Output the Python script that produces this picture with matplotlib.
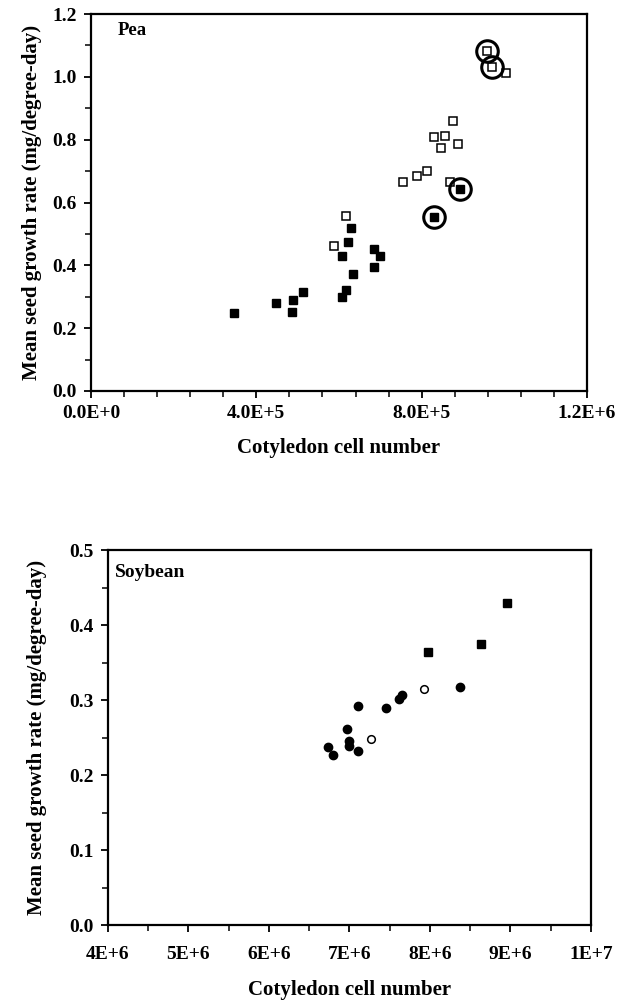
import numpy as np
import matplotlib
matplotlib.use('Agg')
import matplotlib.pyplot as plt
from matplotlib.ticker import FixedLocator, FixedFormatter, MultipleLocator

# Pea data (cell number, growth rate)
pea_filled_x = [3.47e5, 4.47e5, 4.88e5, 4.86e5, 5.13e5, 6.08e5, 6.18e5, 6.33e5,
                6.08e5, 6.21e5, 6.28e5, 6.85e5, 6.98e5, 6.85e5, 8.93e5, 8.31e5]
pea_filled_y = [0.247, 0.279, 0.290, 0.252, 0.315, 0.300, 0.322, 0.372,
                0.430, 0.474, 0.518, 0.452, 0.431, 0.394, 0.642, 0.555]
pea_open_x = [5.87e5, 6.18e5, 7.54e5, 7.89e5, 8.13e5, 8.68e5, 8.31e5, 8.56e5,
              8.47e5, 8.87e5, 8.77e5, 9.57e5, 9.71e5, 1.005e6]
pea_open_y = [0.463, 0.557, 0.664, 0.685, 0.701, 0.666, 0.807, 0.813,
              0.774, 0.787, 0.859, 1.083, 1.032, 1.013]
pea_circled_x = [9.57e5, 9.71e5, 8.93e5, 8.31e5]
pea_circled_y = [1.083, 1.032, 0.642, 0.555]

# Soybean data
soy_filled_x = [6.73e6, 6.80e6, 6.97e6, 6.99e6, 6.99e6, 7.10e6, 7.11e6, 7.45e6,
                7.61e6, 7.65e6, 8.37e6]
soy_filled_y = [0.238, 0.227, 0.262, 0.246, 0.239, 0.232, 0.292, 0.290,
                0.301, 0.307, 0.317]
soy_open_x = [7.27e6, 7.93e6]
soy_open_y = [0.248, 0.315]
soy_square_x = [7.98e6, 8.63e6, 8.96e6]
soy_square_y = [0.364, 0.375, 0.429]

pea_xticks = [0, 4e5, 8e5, 1.2e6]
pea_xlabels = ['0.0E+0', '4.0E+5', '8.0E+5', '1.2E+6']
pea_yticks = [0.0, 0.2, 0.4, 0.6, 0.8, 1.0, 1.2]
soy_xticks = [4e6, 5e6, 6e6, 7e6, 8e6, 9e6, 1e7]
soy_xlabels = ['4E+6', '5E+6', '6E+6', '7E+6', '8E+6', '9E+6', '1E+7']
soy_yticks = [0.0, 0.1, 0.2, 0.3, 0.4, 0.5]

plt.rcParams['font.family'] = 'Liberation Serif'
plt.rcParams['font.weight'] = 'bold'

fig = plt.figure(figsize=(6.25, 10.01), dpi=100)
ax1 = fig.add_axes([0.1456, 0.6094, 0.7936, 0.3766])
ax2 = fig.add_axes([0.1728, 0.0759, 0.7728, 0.3746])

ylab = 'Mean seed growth rate (mg/degree-day)'
xlab = 'Cotyledon cell number'

# Pea
ax1.plot(pea_filled_x, pea_filled_y, 's', color='black', markersize=5.5, zorder=3)
ax1.plot(pea_open_x, pea_open_y, 's', markerfacecolor='white', markeredgecolor='black',
         markersize=5.5, markeredgewidth=1.1, zorder=3)
ax1.plot(pea_circled_x, pea_circled_y, 'o', markerfacecolor='none', markeredgecolor='black',
         markersize=15.5, markeredgewidth=2.2, zorder=4)
ax1.set_xlim(0, 1.2e6)
ax1.set_ylim(0, 1.2)
ax1.xaxis.set_major_locator(FixedLocator(pea_xticks))
ax1.xaxis.set_major_formatter(FixedFormatter(pea_xlabels))
ax1.xaxis.set_minor_locator(MultipleLocator(8e4))
ax1.yaxis.set_major_locator(FixedLocator(pea_yticks))
ax1.yaxis.set_major_formatter(FixedFormatter(['%.1f' % v for v in pea_yticks]))
ax1.yaxis.set_minor_locator(MultipleLocator(0.1))
ax1.text(0.054, 0.955, 'Pea', transform=ax1.transAxes, fontsize=13.5, fontweight='bold',
         va='center', ha='left')
ax1.set_xlabel(xlab, fontsize=15, fontweight='bold')
ax1.xaxis.set_label_coords(0.5, -0.125)
ax1.set_ylabel(ylab, fontsize=15, fontweight='bold')
ax1.yaxis.set_label_coords(-0.099, 0.5)

# Soybean
ax2.plot(soy_filled_x, soy_filled_y, 'o', color='black', markersize=6, zorder=3)
ax2.plot(soy_open_x, soy_open_y, 'o', markerfacecolor='white', markeredgecolor='black',
         markersize=5.5, markeredgewidth=1.1, zorder=3)
ax2.plot(soy_square_x, soy_square_y, 's', color='black', markersize=6, zorder=3)
ax2.set_xlim(4e6, 1e7)
ax2.set_ylim(0, 0.5)
ax2.xaxis.set_major_locator(FixedLocator(soy_xticks))
ax2.xaxis.set_major_formatter(FixedFormatter(soy_xlabels))
ax2.xaxis.set_minor_locator(MultipleLocator(5e5))
ax2.yaxis.set_major_locator(FixedLocator(soy_yticks))
ax2.yaxis.set_major_formatter(FixedFormatter(['%.1f' % v for v in soy_yticks]))
ax2.yaxis.set_minor_locator(MultipleLocator(0.05))
ax2.text(0.015, 0.941, 'Soybean', transform=ax2.transAxes, fontsize=14, fontweight='bold',
         va='center', ha='left')
ax2.set_xlabel(xlab, fontsize=15, fontweight='bold')
ax2.xaxis.set_label_coords(0.5, -0.147)
ax2.set_ylabel(ylab, fontsize=15, fontweight='bold')
ax2.yaxis.set_label_coords(-0.126, 0.5)

for ax in [ax1, ax2]:
    for s in ax.spines.values():
        s.set_linewidth(1.6)
    ax.tick_params(which='major', direction='out', length=5, width=1.3, labelsize=14, pad=5)
    ax.tick_params(which='minor', direction='out', length=4, width=1.1)
    for lbl in ax.get_xticklabels() + ax.get_yticklabels():
        lbl.set_fontweight('bold')
ax2.tick_params(axis='x', which='major', pad=10)

fig.savefig('out.png', dpi=100)
